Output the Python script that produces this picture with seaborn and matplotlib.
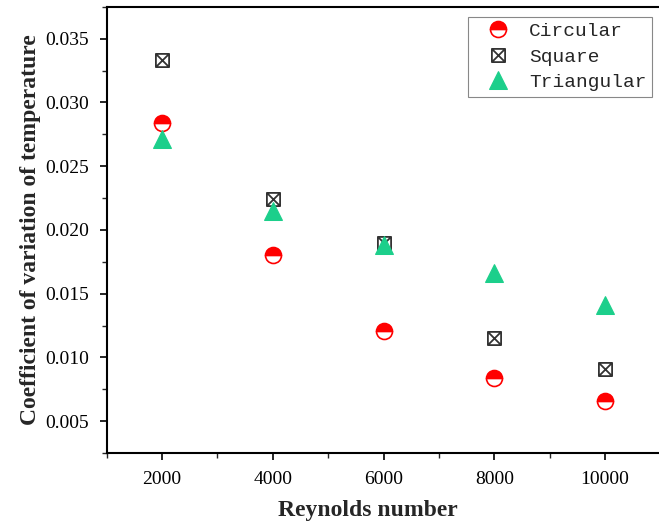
import numpy as np
import pandas as pd
import matplotlib
matplotlib.use("Agg")
import matplotlib.pyplot as plt
from matplotlib.path import Path
from matplotlib.ticker import MultipleLocator, FuncFormatter
import seaborn as sns

reynolds = [2000, 4000, 6000, 8000, 10000]
circular = [0.0284, 0.0180, 0.0121, 0.0084, 0.0066]
square = [0.0333, 0.0224, 0.0190, 0.0115, 0.0091]
triangular = [0.0271, 0.0215, 0.0188, 0.0166, 0.0141]

sns.set_theme(style="white")
plt.rcParams["font.family"] = ["Liberation Serif", "DejaVu Serif"]

fig = plt.figure(figsize=(6.59, 5.28), dpi=100)
ax = fig.add_axes([0.162, 0.142, 0.840, 0.845])

boxx = Path(
    [(-1, -1), (1, -1), (1, 1), (-1, 1), (-1, -1), (-1, -1), (1, 1), (-1, 1), (1, -1)],
    [Path.MOVETO, Path.LINETO, Path.LINETO, Path.LINETO, Path.CLOSEPOLY,
     Path.MOVETO, Path.LINETO, Path.MOVETO, Path.LINETO],
)

sns.lineplot(x=reynolds, y=circular, ax=ax, marker="o", linestyle="",
             color="red", markeredgecolor="red", markerfacecolor="red",
             markerfacecoloralt="white", fillstyle="top", markersize=11.5,
             markeredgewidth=1.2, label="Circular")
sns.lineplot(x=reynolds, y=square, ax=ax, marker=boxx, linestyle="",
             color="#333333", markeredgecolor="#333333", markerfacecolor="none",
             markersize=9.5, markeredgewidth=1.3, label="Square")
sns.lineplot(x=reynolds, y=triangular, ax=ax, marker="^", linestyle="",
             color="#1ccf8b", markeredgecolor="#1ccf8b", markerfacecolor="#1ccf8b",
             markersize=13, label="Triangular")

ax.set_xlim(1000, 11000)
ax.set_ylim(0.0025, 0.0375)
ax.xaxis.set_major_locator(MultipleLocator(2000))
ax.xaxis.set_minor_locator(MultipleLocator(1000))
ax.yaxis.set_major_locator(MultipleLocator(0.005))
ax.yaxis.set_minor_locator(MultipleLocator(0.0025))
ax.yaxis.set_major_formatter(FuncFormatter(lambda v, p: f"{v:.3f}"))

for side in ["left", "bottom", "top"]:
    ax.spines[side].set_visible(True)
    ax.spines[side].set_color("black")
    ax.spines[side].set_linewidth(1.5)
ax.spines["right"].set_visible(False)

ax.tick_params(axis="both", which="major", direction="out", length=5, width=1.2,
               labelsize=14, colors="black", bottom=True, left=True, top=False, right=False)
ax.tick_params(axis="both", which="minor", direction="out", length=3.5, width=1.0,
               bottom=True, left=True, top=False, right=False)
ax.tick_params(axis="x", which="major", pad=8)
ax.tick_params(axis="y", which="major", pad=8)

ax.set_xlabel("Reynolds number", fontsize=17, fontweight="bold")
ax.xaxis.set_label_coords(0.472, -0.105)
ax.set_ylabel("Coefficient of variation of temperature", fontsize=17,
              fontweight="bold", labelpad=3)

leg = ax.legend(loc="upper right", bbox_to_anchor=(0.9855, 0.9776), borderaxespad=0,
                frameon=True, fancybox=False, framealpha=1, edgecolor="#888888",
                prop={"family": "Liberation Mono", "size": 14},
                handletextpad=0.36, borderpad=0.3, labelspacing=0.4,
                handlelength=2.5)
leg.get_frame().set_linewidth(0.8)

fig.savefig("out.png", dpi=100)
